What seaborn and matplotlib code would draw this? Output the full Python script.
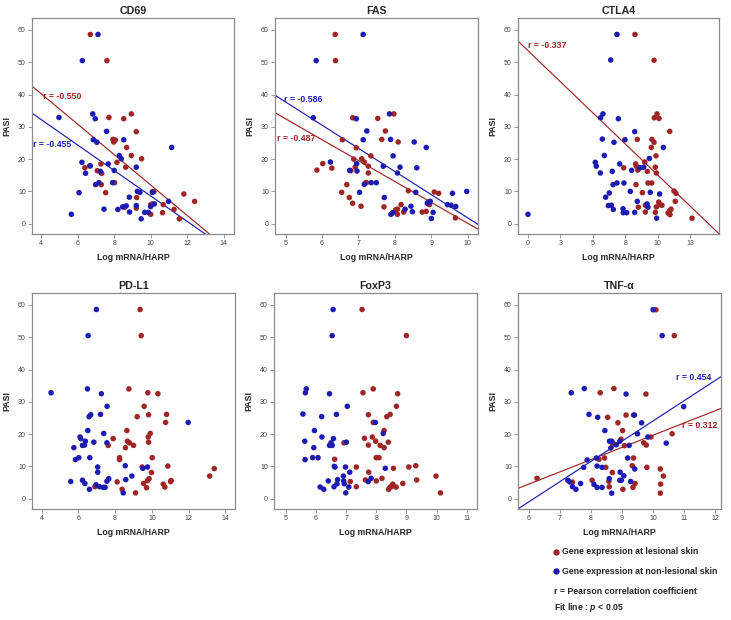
import numpy as np
import pandas as pd
import seaborn as sns
import matplotlib
matplotlib.use("Agg")
import matplotlib.pyplot as plt
from matplotlib.lines import Line2D

# ---------------- data ----------------
genes = ["CD69", "FAS", "CTLA4", "PD-L1", "FoxP3", "TNF-α"]

cd69_les_x = [6.69,7.60,7.71,8.94,8.52,9.21,7.93,8.06,7.97,8.68,8.94,9.50,8.15,7.27,8.63,6.39,6.65,7.07,7.31,8.02,7.29,7.53,10.09,10.18,11.82,12.41,10.69,10.09,9.23,9.21,8.57,10.00,10.65,11.28,10.00,11.57]
cd69_les_y = [58.6,50.5,32.9,34.0,32.5,28.5,26.1,25.9,25.3,23.6,21.1,20.1,19.0,18.5,17.5,17.3,17.9,16.4,15.6,12.7,12.1,9.6,9.9,9.9,9.2,6.9,5.9,6.1,8.1,4.8,5.1,5.9,3.4,4.4,2.9,1.5]
cd69_non_x = [7.11,6.25,4.97,6.82,6.96,7.58,6.85,7.05,8.52,11.15,8.28,8.39,6.23,7.67,6.69,9.21,8.00,7.24,6.43,7.16,7.91,6.98,6.07,9.27,9.41,10.10,8.83,10.98,10.20,9.21,8.66,8.46,7.44,8.20,8.84,9.67,9.87,10.00,5.65,9.48]
cd69_non_y = [58.6,50.5,32.9,34.0,32.5,28.6,26.0,25.2,26.0,23.6,21.1,20.1,19.0,18.5,17.9,17.5,16.5,16.2,15.6,12.7,12.7,12.1,9.6,10.0,9.7,9.7,8.2,6.9,6.1,5.6,5.5,5.2,4.5,4.4,3.6,3.5,3.5,5.3,2.9,1.5]

fas_les_x = [6.36,6.37,6.84,7.53,7.97,7.74,6.56,7.64,8.09,6.94,7.34,7.09,6.87,7.16,6.02,7.27,6.27,6.91,5.86,6.79,7.27,7.20,7.22,6.68,6.54,8.37,9.08,9.20,6.75,6.84,7.07,7.70,8.17,8.07,8.02,8.24,8.75,8.86,8.95,8.07,9.66,8.91]
fas_les_y = [58.6,50.5,32.8,32.6,34.0,28.7,26.0,26.1,25.3,23.5,21.0,20.1,20.0,19.1,18.6,17.8,17.2,17.5,16.6,16.4,15.7,12.7,12.7,12.1,9.7,10.2,9.8,9.4,8.1,6.3,5.4,5.2,5.9,4.5,4.3,3.6,3.6,3.8,5.9,2.9,1.8,6.7]
fas_non_x = [7.13,5.84,5.76,6.94,7.85,7.23,7.13,7.88,8.53,8.86,7.95,6.95,6.23,8.14,8.60,7.68,6.76,6.96,8.07,7.16,7.35,7.49,7.03,8.57,9.97,9.58,7.71,8.97,8.89,9.44,9.54,9.67,8.44,8.28,8.48,7.94,7.89,9.05,9.00]
fas_non_y = [58.6,50.5,32.8,32.5,34.0,28.7,26.0,26.1,25.3,23.6,21.0,18.6,19.1,17.5,17.3,17.8,16.5,16.3,15.7,12.2,12.7,12.7,9.7,9.7,10.0,9.4,8.1,6.9,6.3,5.9,5.7,5.3,5.4,4.5,3.7,3.4,2.9,3.5,1.6]

ctla4_les_x = [8.25,9.72,9.95,9.74,10.10,10.93,8.43,9.56,9.72,9.51,9.87,9.00,8.30,8.35,9.82,7.38,8.46,9.20,9.90,9.25,9.54,8.33,8.82,11.26,11.41,11.36,10.08,10.18,10.33,9.90,8.51,9.05,11.03,10.93,10.80,10.95,9.05,9.82,12.65]
ctla4_les_y = [58.6,50.6,34.0,32.8,32.6,28.6,26.1,26.1,25.2,23.6,21.0,19.1,18.5,17.8,17.5,17.3,16.6,16.2,15.7,12.6,12.6,12.1,9.6,10.1,9.4,6.9,6.7,5.9,5.7,5.2,5.1,5.7,4.5,4.0,3.3,2.8,3.6,3.5,1.7]
ctla4_non_x = [6.86,6.38,5.78,5.60,6.97,8.23,5.73,6.63,7.48,10.44,5.89,9.36,5.19,5.27,7.07,8.64,8.92,5.58,6.50,7.99,6.86,7.40,6.56,7.89,9.43,10.15,6.27,5.99,8.43,9.18,9.25,6.20,6.43,6.58,7.33,7.35,7.61,8.23,9.92,0.0]
ctla4_non_y = [58.6,50.7,34.0,32.8,32.5,28.5,26.2,25.2,26.0,23.6,21.1,20.2,19.0,17.8,18.5,17.3,17.5,15.7,16.2,16.5,12.6,12.6,12.1,10.0,9.7,9.2,9.5,8.2,6.9,6.1,5.1,5.6,5.7,4.4,4.6,3.4,3.4,3.5,1.7,2.9]

pdl1_les_x = [9.36,9.42,8.75,9.78,10.33,9.58,9.20,9.82,10.80,10.75,8.64,9.91,7.89,9.80,8.67,8.78,9.82,7.62,9.00,8.56,8.24,8.24,10.02,9.47,10.87,9.98,13.40,13.15,9.85,9.76,11.05,11.02,10.62,10.71,9.55,9.71,8.11,6.90,8.38,9.11]
pdl1_les_y = [58.6,50.5,34.0,32.8,32.5,28.6,25.4,26.0,26.1,23.6,21.1,20.2,18.6,19.1,17.8,17.3,17.5,16.5,16.5,15.8,12.7,12.1,12.7,9.8,10.1,8.1,9.3,7.0,6.2,5.6,5.6,5.3,4.5,3.6,4.7,3.4,5.2,3.7,2.9,1.8]
pdl1_non_x = [6.98,6.53,4.51,6.49,7.25,7.56,6.58,6.67,7.20,11.98,6.51,7.38,6.09,6.13,6.38,6.84,7.55,6.22,6.33,5.75,6.02,6.62,5.84,7.05,8.55,9.76,7.05,8.91,8.58,7.65,7.55,5.58,6.22,6.35,6.96,7.15,7.35,7.45,6.60,8.44,9.51]
pdl1_non_y = [58.6,50.5,32.8,34.0,32.5,28.6,25.4,26.0,26.1,23.6,21.1,20.2,19.1,18.6,17.8,17.5,17.3,16.5,16.6,15.8,12.7,12.7,12.1,9.8,10.2,9.8,8.2,7.0,5.9,6.2,5.4,5.3,5.7,4.7,4.3,3.7,3.5,3.5,2.9,1.8,9.4]

foxp3_les_x = [7.53,9.00,7.90,7.56,8.71,8.67,7.74,8.35,8.46,7.90,8.26,6.93,7.61,7.87,7.98,8.40,7.74,8.13,8.26,6.62,8.00,8.09,7.34,9.08,9.31,9.98,7.75,8.57,8.19,9.34,8.00,7.14,7.64,8.55,8.88,8.46,8.66,7.34,8.41,10.13,8.50]
foxp3_les_y = [58.6,50.5,34.0,32.8,32.5,28.6,26.0,25.4,26.1,23.6,21.1,17.3,18.7,19.1,17.8,17.5,16.6,16.5,15.8,12.2,12.7,12.7,9.8,9.8,10.2,7.0,8.2,9.4,6.3,5.8,5.5,5.3,5.8,4.5,4.7,3.6,3.6,3.7,2.9,1.8,3.7]
foxp3_non_x = [6.57,6.54,5.65,5.68,6.45,7.04,5.57,6.19,6.68,7.97,5.95,8.23,6.20,6.58,5.63,7.01,6.50,6.45,6.54,5.93,5.89,6.07,5.64,6.61,6.63,6.98,7.12,6.91,8.30,7.83,6.41,6.92,6.72,6.70,6.94,7.73,7.09,6.14,6.26,6.99,6.60]
foxp3_non_y = [58.6,50.5,32.8,34.0,32.5,28.6,26.2,25.4,26.1,23.6,21.1,20.2,19.1,18.6,17.8,17.5,17.3,16.5,16.5,15.8,12.7,12.7,12.1,10.0,9.8,9.8,8.2,7.0,9.4,6.3,5.5,5.5,5.9,4.6,4.6,5.3,3.6,3.6,2.9,1.8,3.7]

tnf_les_x = [10.09,10.68,8.30,8.74,9.77,8.54,9.13,9.37,8.87,9.02,9.93,8.97,10.61,9.70,9.78,9.08,8.71,8.71,8.44,8.26,9.37,9.33,9.80,8.48,10.23,8.69,10.33,6.27,7.41,8.04,8.58,8.59,9.03,9.42,9.35,10.24,10.23]
tnf_les_y = [58.5,50.5,32.8,34.1,32.4,25.2,25.9,25.9,23.5,21.1,19.1,18.4,20.1,17.3,16.6,16.4,17.2,16.7,12.6,12.2,12.6,10.2,9.7,9.7,9.2,8.1,7.0,6.3,5.1,5.7,5.4,3.7,2.9,4.7,3.5,4.5,1.7]
tnf_non_x = [10.00,10.29,7.37,7.79,9.13,10.98,7.94,8.22,9.40,9.63,8.45,9.50,9.83,8.60,8.67,10.42,8.93,8.82,9.23,8.64,7.88,8.18,9.18,7.77,8.20,8.36,9.41,8.94,9.06,7.26,7.32,8.59,8.93,8.98,9.28,7.67,8.10,7.41,7.52,8.20,8.36,8.67]
tnf_non_y = [58.5,50.5,32.8,34.1,32.4,28.5,26.1,25.2,25.9,23.5,21.1,20.1,19.1,17.8,17.8,17.2,17.8,16.7,16.5,15.7,12.0,12.6,12.6,9.7,10.1,9.7,9.2,8.2,7.1,5.7,5.2,6.2,5.7,5.7,5.3,4.7,4.4,3.7,2.9,3.5,3.5,1.7]

# Pearson r labels shown in the reference (only significant fits are drawn)
r_labels = {
    "CD69": {"les": "r = -0.550", "non": "r = -0.455"},
    "FAS": {"les": "r = -0.487", "non": "r = -0.586"},
    "CTLA4": {"les": "r = -0.337"},
    "PD-L1": {},
    "FoxP3": {},
    "TNF-α": {"les": "r = 0.312", "non": "r = 0.454"},
}

x_ticks = {
    "CD69": [4, 6, 8, 10, 12, 14],
    "FAS": [5, 6, 7, 8, 9, 10],
    "CTLA4": [0, 2.5, 5, 7.5, 10, 12.5],
    "PD-L1": [4, 6, 8, 10, 12, 14],
    "FoxP3": [5, 6, 7, 8, 9, 10, 11],
    "TNF-α": [6, 7, 8, 9, 10, 11, 12],
}
x_tick_labels = {"CTLA4": ["0", "3", "5", "8", "10", "13"]}
y_ticks = [0, 10, 20, 30, 40, 50, 60]

panel_data = {
    "CD69": (cd69_les_x, cd69_les_y, cd69_non_x, cd69_non_y),
    "FAS": (fas_les_x, fas_les_y, fas_non_x, fas_non_y),
    "CTLA4": (ctla4_les_x, ctla4_les_y, ctla4_non_x, ctla4_non_y),
    "PD-L1": (pdl1_les_x, pdl1_les_y, pdl1_non_x, pdl1_non_y),
    "FoxP3": (foxp3_les_x, foxp3_les_y, foxp3_non_x, foxp3_non_y),
    "TNF-α": (tnf_les_x, tnf_les_y, tnf_non_x, tnf_non_y),
}

# ---------------- style ----------------
sns.set_theme(style="white")
plt.rcParams["font.family"] = ["Liberation Sans", "DejaVu Sans"]
plt.rcParams["mathtext.fontset"] = "custom"
plt.rcParams["mathtext.rm"] = "Liberation Sans:bold"
plt.rcParams["mathtext.it"] = "Liberation Sans:italic:bold"
plt.rcParams["mathtext.bf"] = "Liberation Sans:bold"

RED = "#a02626"
BLUE = "#1c1cb2"
FRAME = "#8a8a8a"
palette = {"les": RED, "non": BLUE}

W, H = 731, 620
fig = plt.figure(figsize=(W / 100, H / 100), dpi=100)

# axes boxes in pixels (left, top, right, bottom)
boxes = {
    "CD69": (32, 18, 234, 234),
    "FAS": (275, 18, 478, 234),
    "CTLA4": (518, 18, 719, 234),
    "PD-L1": (32, 293, 235, 509),
    "FoxP3": (274, 293, 477, 509),
    "TNF-α": (518, 293, 721, 509),
}
xlims = {
    "CD69": (3.49, 14.57),
    "FAS": (4.71, 10.28),
    "CTLA4": (-0.77, 14.73),
    "PD-L1": (3.47, 14.53),
    "FoxP3": (4.61, 11.34),
    "TNF-α": (5.66, 12.18),
}
label_pos = {
    "CD69": {"les": (4.12, 39.5), "non": (3.55, 24.6)},
    "FAS": {"les": (4.76, 26.3), "non": (4.96, 38.5)},
    "CTLA4": {"les": (0.0, 55.1)},
    "TNF-α": {"les": (10.93, 22.7), "non": (10.72, 37.6)},
}

for g in genes:
    l, t, r, b = boxes[g]
    ax = fig.add_axes([l / W, 1 - b / H, (r - l) / W, (b - t) / H])
    lx, ly, nx, ny = panel_data[g]
    df = pd.DataFrame({
        "x": list(lx) + list(nx),
        "PASI": list(ly) + list(ny),
        "group": ["les"] * len(lx) + ["non"] * len(nx),
    })
    ax.set_xlim(*xlims[g])
    ax.set_ylim(-3.2, 63.7)
    sns.scatterplot(data=df, x="x", y="PASI", hue="group", palette=palette,
                    s=16, linewidth=0, legend=False, ax=ax, zorder=3)
    for grp in r_labels[g]:
        sub = df[df["group"] == grp]
        sns.regplot(data=sub, x="x", y="PASI", scatter=False, ci=None,
                    truncate=False, color=palette[grp],
                    line_kws={"lw": 0.85, "zorder": 2}, ax=ax)
        tx, ty = label_pos[g][grp]
        ax.text(tx, ty, r_labels[g][grp], color=palette[grp], fontsize=6.3,
                fontweight="bold", ha="left", va="center", zorder=4)
    ax.set_xlim(*xlims[g])
    ax.set_ylim(-3.2, 63.7)
    ax.set_xticks(x_ticks[g])
    if g in x_tick_labels:
        ax.set_xticklabels(x_tick_labels[g])
    ax.set_yticks(y_ticks)
    ax.tick_params(axis="both", which="both", direction="out", length=3,
                   width=0.6, color=FRAME, labelsize=5, labelcolor="#444444",
                   pad=1.5, bottom=True, left=True)
    for sp in ax.spines.values():
        sp.set_color(FRAME)
        sp.set_linewidth(0.9)
        sp.set_visible(True)
    ax.set_xlabel("Log mRNA/HARP", fontsize=6.3, fontweight="bold", labelpad=4)
    ax.set_ylabel("PASI", fontsize=6.3, fontweight="bold", labelpad=5)
    ax.set_title(g, fontsize=7.7, fontweight="bold", pad=3)
    ax.set_facecolor("white")

# ---------------- legend / notes ----------------
def px(x, y):
    return x / W, 1 - y / H

for (yy, col, txt) in [(552, RED, "Gene expression at lesional skin"),
                       (571, BLUE, "Gene expression at non-lesional skin")]:
    fig.add_artist(Line2D([px(556, yy)[0]], [px(556, yy)[1]], marker="o",
                          markersize=3.6, color=col, linestyle="none",
                          transform=fig.transFigure))
    fig.text(*px(562, yy), txt, fontsize=6.3, fontweight="bold",
             ha="left", va="center")
fig.text(*px(554, 591), "r = Pearson correlation coefficient", fontsize=6.3,
         fontweight="bold", ha="left", va="center")
fig.text(*px(554, 607), r"Fit line : $\it{p}$ < 0.05", fontsize=6.3,
         fontweight="bold", ha="left", va="center")

fig.savefig("out.png", dpi=100)
